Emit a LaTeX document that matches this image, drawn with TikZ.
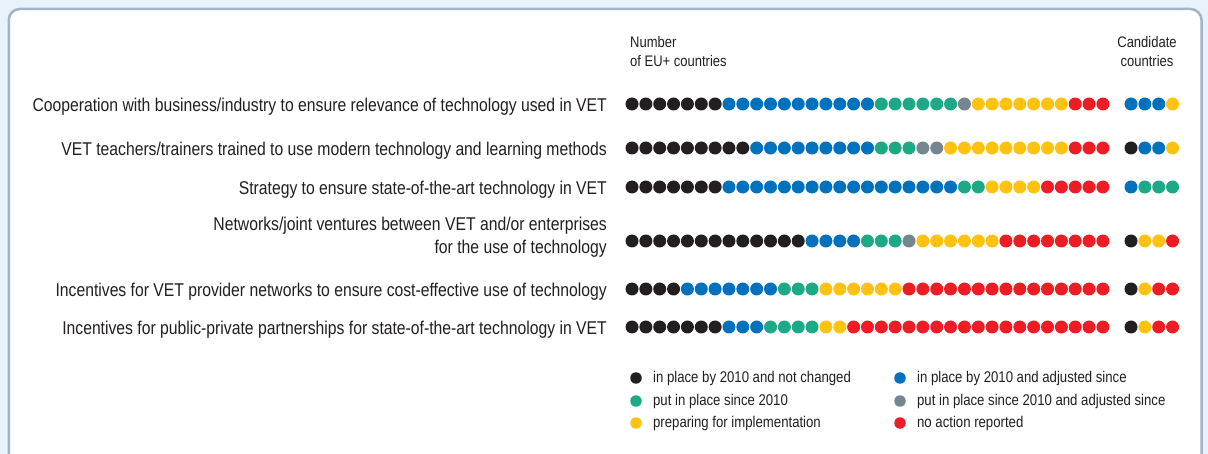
\documentclass[tikz,border=0pt]{standalone}
\usepackage{fontspec}
\setmainfont{Liberation Sans}[FakeStretch=0.85]
\usetikzlibrary{positioning}
\definecolor{pagebg}{HTML}{E7F2F9}
\definecolor{panelline}{HTML}{A3B3C9}
\definecolor{txt}{HTML}{231F20}
\definecolor{kept}{HTML}{231F20}
\definecolor{adjusted}{HTML}{0071BC}
\definecolor{newsince}{HTML}{1DA886}
\definecolor{newadj}{HTML}{76868F}
\definecolor{preparing}{HTML}{FFC20F}
\definecolor{noaction}{HTML}{EE1C25}
\newcount\dotidx
\newcommand{\dotrow}[3]{
	\global\dotidx=0
	\foreach \col/\num in {#3} {
		\foreach \k in {1,...,\num} {
			\fill [\col] (#1+13.85*\the\dotidx,#2) circle (6.5pt);
			\global\advance\dotidx by 1
		}
	}
}
\newcommand{\measure}[3]{
	\node [rowlabel] (#1) at (607,#2) {#3}
}
\newcommand{\legitem}[4]{
	\node [legdot,fill=#3] (#1) at #2 {};
	\node [legtext,right=11pt of #1] (#1t) {#4}
}

\begin{document}
\begin{tikzpicture}[x=1pt,y=-1pt,
	rowlabel/.style={anchor=east,inner sep=0pt,text=txt,font=\fontsize{18.5}{23}\selectfont,text height=13.2pt,text depth=0pt},
	headtext/.style={inner sep=0pt,text=txt,font=\fontsize{15.3}{19}\selectfont},
	legdot/.style={circle,inner sep=0pt,minimum size=11.5pt},
	legtext/.style={anchor=west,inner sep=0pt,text=txt,font=\fontsize{15.5}{18}\selectfont}]
	% Page and panel
	\useasboundingbox (0,0) rectangle (1208,454);
	\clip (0,0) rectangle (1208,454);
	\fill [pagebg] (0,0) rectangle (1208,454);
	\draw [panelline,line width=2.5pt,fill=white,rounded corners=11pt] (8.8,9) rectangle (1201.5,480);

	% Column heads
	\node [headtext,anchor=north west,align=left] (eu) at (630,36) {Number\\of EU+ countries};
	\node [headtext,anchor=north,align=center] (cand) at (1147,36) {Candidate\\countries};

	% Measures
	\measure {m1}{104.5}{Cooperation with business/industry to ensure relevance of technology used in VET};
	\measure {m2}{148.5}{VET teachers/trainers trained to use modern technology and learning methods};
	\measure {m3}{187.5}{Strategy to ensure state-of-the-art technology in VET};
	\node [rowlabel,align=right,text height=,text depth=] (m4) at (607,237.5) {Networks/joint ventures between VET and/or enterprises\\for the use of technology};
	\measure {m5}{289.5}{Incentives for VET provider networks to ensure cost-effective use of technology};
	\measure {m6}{327.5}{Incentives for public-private partnerships for state-of-the-art technology in VET};

	% EU+ countries
	\dotrow{632}{104}{kept/7,adjusted/11,newsince/6,newadj/1,preparing/7,noaction/3}
	\dotrow{632}{148}{kept/9,adjusted/9,newsince/3,newadj/2,preparing/9,noaction/3}
	\dotrow{632}{187}{kept/7,adjusted/17,newsince/2,preparing/4,noaction/5}
	\dotrow{632}{241}{kept/13,adjusted/4,newsince/3,newadj/1,preparing/6,noaction/8}
	\dotrow{632}{289}{kept/4,adjusted/7,newsince/3,preparing/6,noaction/15}
	\dotrow{632}{327}{kept/7,adjusted/3,newsince/4,preparing/2,noaction/19}

	% Candidate countries
	\dotrow{1131}{104}{adjusted/3,preparing/1}
	\dotrow{1131}{148}{kept/1,adjusted/2,preparing/1}
	\dotrow{1131}{187}{adjusted/1,newsince/3}
	\dotrow{1131}{241}{kept/1,preparing/2,noaction/1}
	\dotrow{1131}{289}{kept/1,preparing/1,noaction/2}
	\dotrow{1131}{327}{kept/1,preparing/1,noaction/2}

	% Legend
	\legitem {l1}{(636,378)}{kept}{in place by 2010 and not changed};
	\legitem {l2}{(636,401)}{newsince}{put in place since 2010};
	\legitem {l3}{(636,423)}{preparing}{preparing for implementation};
	\legitem {l4}{(900,378)}{adjusted}{in place by 2010 and adjusted since};
	\legitem {l5}{(900,401)}{newadj}{put in place since 2010 and adjusted since};
	\legitem {l6}{(900,423)}{noaction}{no action reported};
\end{tikzpicture}
\end{document}
